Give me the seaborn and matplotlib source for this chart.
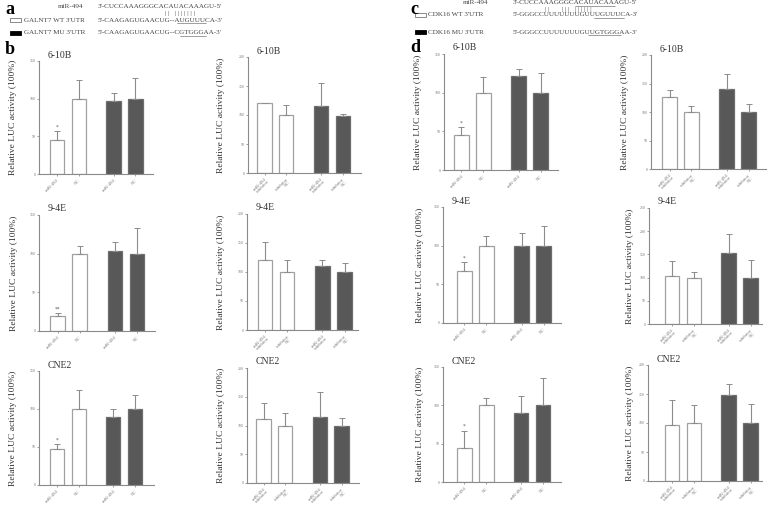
import numpy as np
import pandas as pd
import matplotlib
matplotlib.use("Agg")
import matplotlib.pyplot as plt
import seaborn as sns
from matplotlib.lines import Line2D

sns.set_style("ticks")
plt.rcParams["font.family"] = ["Liberation Serif", "DejaVu Serif"]

W, H = 771, 508

# bar groups: WT (white) x2, MU (dark) x2
positions = [0, 1, 2.6, 3.6]
groups = ["WT", "WT", "MU", "MU"]
mimic_labels = ["miR-494", "NC", "miR-494", "NC"]
inhib_labels = ["miR-494\ninhibitor", "inhibitor\nNC", "miR-494\ninhibitor", "inhibitor\nNC"]

# panel b (GALNT7)
b_610b_mimic = [45, 100, 97, 100]
b_610b_mimic_err = [12, 25, 11, 28]
b_610b_inhib = [120, 100, 115, 99]
b_610b_inhib_err = [1, 18, 40, 2]
b_94e_mimic = [20, 100, 103, 100]
b_94e_mimic_err = [3, 10, 12, 33]
b_94e_inhib = [120, 100, 111, 100]
b_94e_inhib_err = [31, 20, 9, 15]
b_cne2_mimic = [48, 100, 89, 100]
b_cne2_mimic_err = [6, 25, 11, 18]
b_cne2_inhib = [112, 100, 114, 100]
b_cne2_inhib_err = [27, 22, 44, 13]

# panel d (CDK16)
d_610b_mimic = [45, 100, 122, 100]
d_610b_mimic_err = [10, 20, 9, 25]
d_610b_inhib = [126, 100, 141, 100]
d_610b_inhib_err = [13, 10, 25, 14]
d_94e_mimic = [67, 100, 100, 100]
d_94e_mimic_err = [12, 13, 16, 26]
d_94e_inhib = [104, 100, 152, 100]
d_94e_inhib_err = [31, 12, 42, 37]
d_cne2_mimic = [45, 100, 90, 100]
d_cne2_mimic_err = [22, 10, 22, 36]
d_cne2_inhib = [96, 100, 148, 100]
d_cne2_inhib_err = [44, 31, 19, 33]

fig = plt.figure(figsize=(W / 100, H / 100), dpi=100)

def fx(x):
    return x / W

def fy(y):
    return 1 - y / H

def panel(box, vals, errs, labels, title, ymax, star=None, ylab_x=None):
    xl, xr, c1, c4, top, bot = box
    ax = fig.add_axes([fx(xl), fy(bot), fx(xr) - fx(xl), (bot - top) / H])
    df = pd.DataFrame({"pos": positions, "val": vals, "grp": groups})
    sns.barplot(data=df, x="pos", y="val", hue="grp", native_scale=True,
                dodge=False, errorbar=None, width=0.66,
                palette={"WT": "white", "MU": "#585858"},
                linewidth=0.9, legend=False, ax=ax)
    for p in ax.patches:
        fc = p.get_facecolor()
        p.set_edgecolor("#a0a0a0" if fc[0] > 0.9 else "#6e6e6e")
    ax.errorbar(positions, vals, yerr=[np.zeros(4), errs], fmt="none",
                ecolor="#8c8c8c", elinewidth=0.8, capsize=2, capthick=0.7, zorder=1)
    s = (c4 - c1) / positions[-1]
    ax.set_xlim((xl - c1) / s, (xr - c1) / s)
    ax.set_ylim(0, ymax)
    ax.set_yticks(np.arange(0, ymax + 1, 50))
    ax.tick_params(axis="y", labelsize=2.8, length=1.5, width=0.5,
                   colors="#777777", pad=1)
    ax.set_xticks(positions)
    ax.set_xticklabels(labels, rotation=45, ha="right", rotation_mode="anchor",
                       fontsize=3.3, color="#666666", linespacing=0.9)
    ax.tick_params(axis="x", length=1.5, width=0.5, colors="#777777", pad=1.5)
    for sp in ["top", "right"]:
        ax.spines[sp].set_visible(False)
    for sp in ["left", "bottom"]:
        ax.spines[sp].set_color("#8a8a8a")
        ax.spines[sp].set_linewidth(0.8)
    ax.set_xlabel("")
    ax.set_ylabel("")
    if star:
        ax.text(positions[0], vals[0] + errs[0] + ymax * 0.015, star,
                ha="center", va="bottom", fontsize=4, color="#555555")
    fig.text(fx(xl + 9), fy(top - 6), title, ha="left", va="center",
             fontsize=7, color="#333333")
    fig.text(fx(ylab_x), fy((top + bot) / 2), "Relative LUC activity (100%)",
             rotation=90, ha="center", va="center", fontsize=6.8, color="#333333")
    return ax

# panel b
panel((39, 153, 57, 135.5, 61, 174), b_610b_mimic, b_610b_mimic_err, mimic_labels, "6-10B", 150, "*", 13)
panel((248, 361, 264.5, 342.7, 57, 173), b_610b_inhib, b_610b_inhib_err, inhib_labels, "6-10B", 200, None, 221)
panel((39, 155, 57.5, 137, 215, 331), b_94e_mimic, b_94e_mimic_err, mimic_labels, "9-4E", 150, "**", 14)
panel((247, 358, 265, 344.5, 214, 330), b_94e_inhib, b_94e_inhib_err, inhib_labels, "9-4E", 200, None, 221)
panel((39, 154, 57, 135, 371, 485), b_cne2_mimic, b_cne2_mimic_err, mimic_labels, "CNE2", 150, "*", 13)
panel((247, 359, 263.5, 341.5, 368, 483), b_cne2_inhib, b_cne2_inhib_err, inhib_labels, "CNE2", 200, None, 221)

# panel d
panel((444, 558, 461.5, 540.5, 54, 170), d_610b_mimic, d_610b_mimic_err, mimic_labels, "6-10B", 150, "*", 418)
panel((651, 766, 669.5, 748.5, 55, 169), d_610b_inhib, d_610b_inhib_err, inhib_labels, "6-10B", 200, None, 625)
panel((443, 561, 464.5, 543.5, 207, 323), d_94e_mimic, d_94e_mimic_err, mimic_labels, "9-4E", 150, "*", 420)
panel((649, 762, 672, 750.5, 208, 324), d_94e_inhib, d_94e_inhib_err, inhib_labels, "9-4E", 250, None, 630)
panel((443, 561, 464.5, 543, 367, 482), d_cne2_mimic, d_cne2_mimic_err, mimic_labels, "CNE2", 150, "*", 420)
panel((648, 762, 672, 750.5, 365, 481), d_cne2_inhib, d_cne2_inhib_err, inhib_labels, "CNE2", 200, None, 630)

# header texts
seq_fs = 5.1
tc = "#444444"

def txt(x, y, s, **kw):
    fig.text(fx(x), fy(y), s, va="center", **kw)

def legend_box(x, y, filled):
    r = plt.Rectangle((fx(x), fy(y + 2)), fx(11), 4 / H, transform=fig.transFigure,
                      facecolor="black" if filled else "white",
                      edgecolor="black" if filled else "#777777", linewidth=0.6)
    fig.add_artist(r)

def uline(x0, x1, y):
    fig.add_artist(Line2D([fx(x0), fx(x1)], [fy(y), fy(y)], color="#555555", lw=0.4))

txt(5, 9, "a", fontsize=13, fontweight="bold", color="black")
txt(58, 6, "miR-494", fontsize=seq_fs, color=tc)
txt(98, 6, "3'-CUCCAAAGGGCACAUACAAAGU-5'", fontsize=seq_fs, color=tc)
txt(165, 13, "| |   | | | | | | |", fontsize=seq_fs, color=tc)
legend_box(10, 20, False)
txt(24, 20, "GALNT7 WT 3'UTR", fontsize=seq_fs, color=tc)
txt(98, 20, "5'-CAAGAGUGAACUG--AUGUUUCA-3'", fontsize=seq_fs, color=tc)
uline(177, 206, 23)
legend_box(10, 33, True)
txt(24, 33, "GALNT7 MU 3'UTR", fontsize=seq_fs, color=tc)
txt(98, 33, "5'-CAAGAGUGAACUG--CGTGGGAA-3'", fontsize=seq_fs, color=tc)
uline(180, 206, 36)
txt(5, 49, "b", fontsize=13, fontweight="bold", color="black")

txt(410, 9, "c", fontsize=13, fontweight="bold", color="black")
txt(463, 3, "miR-494", fontsize=seq_fs, color=tc)
txt(513, 3, "3'-CUCCAAAGGGCACAUACAAAGU-5'", fontsize=seq_fs, color=tc)
uline(575, 615, 6)
txt(545, 10, "| |       | | |   | | | | | |", fontsize=seq_fs, color=tc)
legend_box(415, 15, False)
txt(428, 15, "CDK16 WT 3'UTR", fontsize=seq_fs, color=tc)
txt(513, 15, "5'-GGGCCUUUUUUUGUUUGUUUCA-3'", fontsize=seq_fs, color=tc)
uline(594, 624, 18)
legend_box(415, 32, True)
txt(428, 32, "CDK16 MU 3'UTR", fontsize=seq_fs, color=tc)
txt(513, 32, "5'-GGGCCUUUUUUUGUUGTGGGAA-3'", fontsize=seq_fs, color=tc)
uline(588, 621, 35)
txt(410, 48, "d", fontsize=13, fontweight="bold", color="black")

fig.savefig("out.png", dpi=100)
